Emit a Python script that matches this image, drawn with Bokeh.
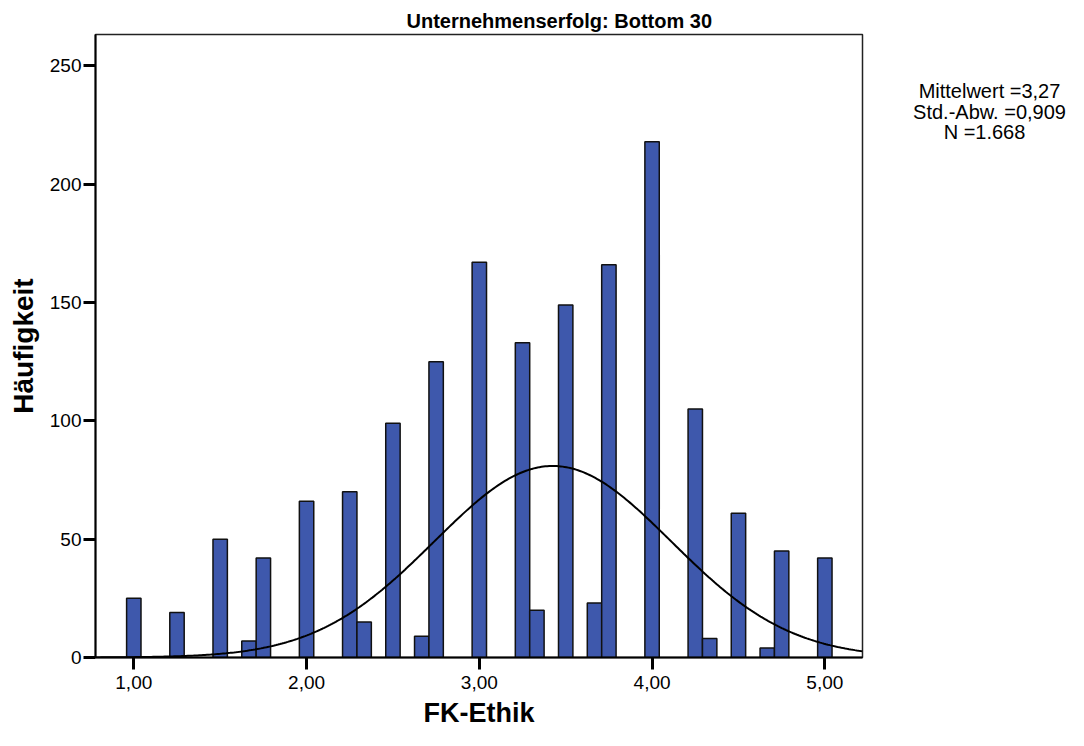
import numpy as np
from bokeh.plotting import figure
from bokeh.layouts import row
from bokeh.models import Label, FixedTicker, Range1d
from bokeh.embed import file_html
from bokeh.resources import INLINE

# ---- data ----
bin_centers = [1.0, 1.25, 1.5, 5/3, 1.75, 2.0, 2.25, 7/3, 2.5, 8/3, 2.75, 3.0,
               3.25, 10/3, 3.5, 11/3, 3.75, 4.0, 4.25, 13/3, 4.5, 14/3, 4.75, 5.0]
counts = [25, 19, 50, 7, 42, 66, 70, 15, 99, 9, 125, 167,
          133, 20, 149, 23, 166, 218, 105, 8, 61, 4, 45, 42]
bin_width = 1/12
n_total = 1668
# normal curve as drawn in the reference
curve_mean = 3.425
curve_sd = 0.685

x_ticks = [1, 2, 3, 4, 5]
x_tick_labels = ["1,00", "2,00", "3,00", "4,00", "5,00"]
y_ticks = [0, 50, 100, 150, 200, 250]

title_text = "Unternehmenserfolg: Bottom 30"
x_label = "FK-Ethik"
y_label = "Häufigkeit"
stats_lines = ["Mittelwert =3,27", "Std.-Abw. =0,909", "N =1.668"]

FONT = "Liberation Sans"
X0, X1 = 0.7783, 5.218
Y0, Y1 = 0, 263.3
MAIN_W, SIDE_W, H = 880, 188, 730
TOP, BOTTOM = 34, 73
FRAME_H = H - TOP - BOTTOM

p = figure(width=MAIN_W, height=H, output_backend="svg", toolbar_location=None,
           x_range=Range1d(X0, X1), y_range=Range1d(Y0, Y1),
           min_border_left=95, min_border_right=18, min_border_top=TOP,
           min_border_bottom=BOTTOM)
p.background_fill_color = "white"
p.border_fill_color = "white"
p.outline_line_color = "#222222"
p.outline_line_width = 1.5
p.xgrid.visible = False
p.ygrid.visible = False

p.title.text = title_text
p.title.text_font = FONT
p.title.text_font_size = "20px"
p.title.text_font_style = "bold"
p.title.text_color = "black"
p.title.align = "left"
p.title.offset = 311
p.title.standoff = 5

p.vbar(x=bin_centers, top=counts, width=bin_width, bottom=0,
       fill_color="#3E58AC", line_color="#111111", line_width=1.5)

xs = np.linspace(X0, X1, 400)
ys = n_total * bin_width / (curve_sd * np.sqrt(2 * np.pi)) * np.exp(-0.5 * ((xs - curve_mean) / curve_sd) ** 2)
p.line(xs, ys, line_color="black", line_width=2)

for ax in (p.xaxis[0], p.yaxis[0]):
    ax.axis_line_color = "black"
    ax.axis_line_width = 2
    ax.major_tick_out = 12
    ax.major_tick_in = 0
    ax.major_tick_line_width = 3
    ax.major_tick_line_color = "black"
    ax.minor_tick_line_color = None
    ax.major_label_text_font = FONT
    ax.major_label_text_font_size = "19px"
    ax.major_label_text_color = "black"
    ax.axis_label_text_font = FONT
    ax.axis_label_text_font_style = "bold"
    ax.axis_label_text_color = "black"

p.xaxis.ticker = FixedTicker(ticks=x_ticks)
p.xaxis.major_label_overrides = {t: l for t, l in zip(x_ticks, x_tick_labels)}
p.xaxis.major_label_standoff = 6
p.xaxis.axis_label = x_label
p.xaxis.axis_label_text_font_size = "27px"
p.xaxis.axis_label_standoff = 6

p.yaxis.ticker = FixedTicker(ticks=y_ticks)
p.yaxis.major_label_standoff = 2
p.yaxis.axis_label = y_label
p.yaxis.axis_label_text_font_size = "28px"
p.yaxis.axis_label_standoff = 8

# side panel for the statistics text; shares the main y range
s = figure(width=SIDE_W, height=H, output_backend="svg", toolbar_location=None,
           x_range=Range1d(0, SIDE_W), y_range=p.y_range,
           x_axis_location=None, y_axis_location=None,
           min_border_left=0, min_border_right=0,
           min_border_top=TOP, min_border_bottom=BOTTOM)
s.title = None
s.xgrid.visible = False
s.ygrid.visible = False
s.outline_line_color = None
s.background_fill_color = "white"
s.border_fill_color = "white"

def y_at(py):
    # canvas pixel row -> value on the shared y range
    return Y1 - (py - TOP) * (Y1 - Y0) / FRAME_H

stat_x = [989 - MAIN_W, 989 - MAIN_W, 984 - MAIN_W]
stat_py = [90, 111, 131]
for t, sx, py in zip(stats_lines, stat_x, stat_py):
    s.add_layout(Label(x=sx, y=y_at(py), text=t,
                       text_font=FONT, text_font_size="20px",
                       text_align="center", text_baseline="alphabetic",
                       text_color="black"))

layout = row(p, s, spacing=0)
open("out.html", "w").write(file_html(layout, INLINE))
